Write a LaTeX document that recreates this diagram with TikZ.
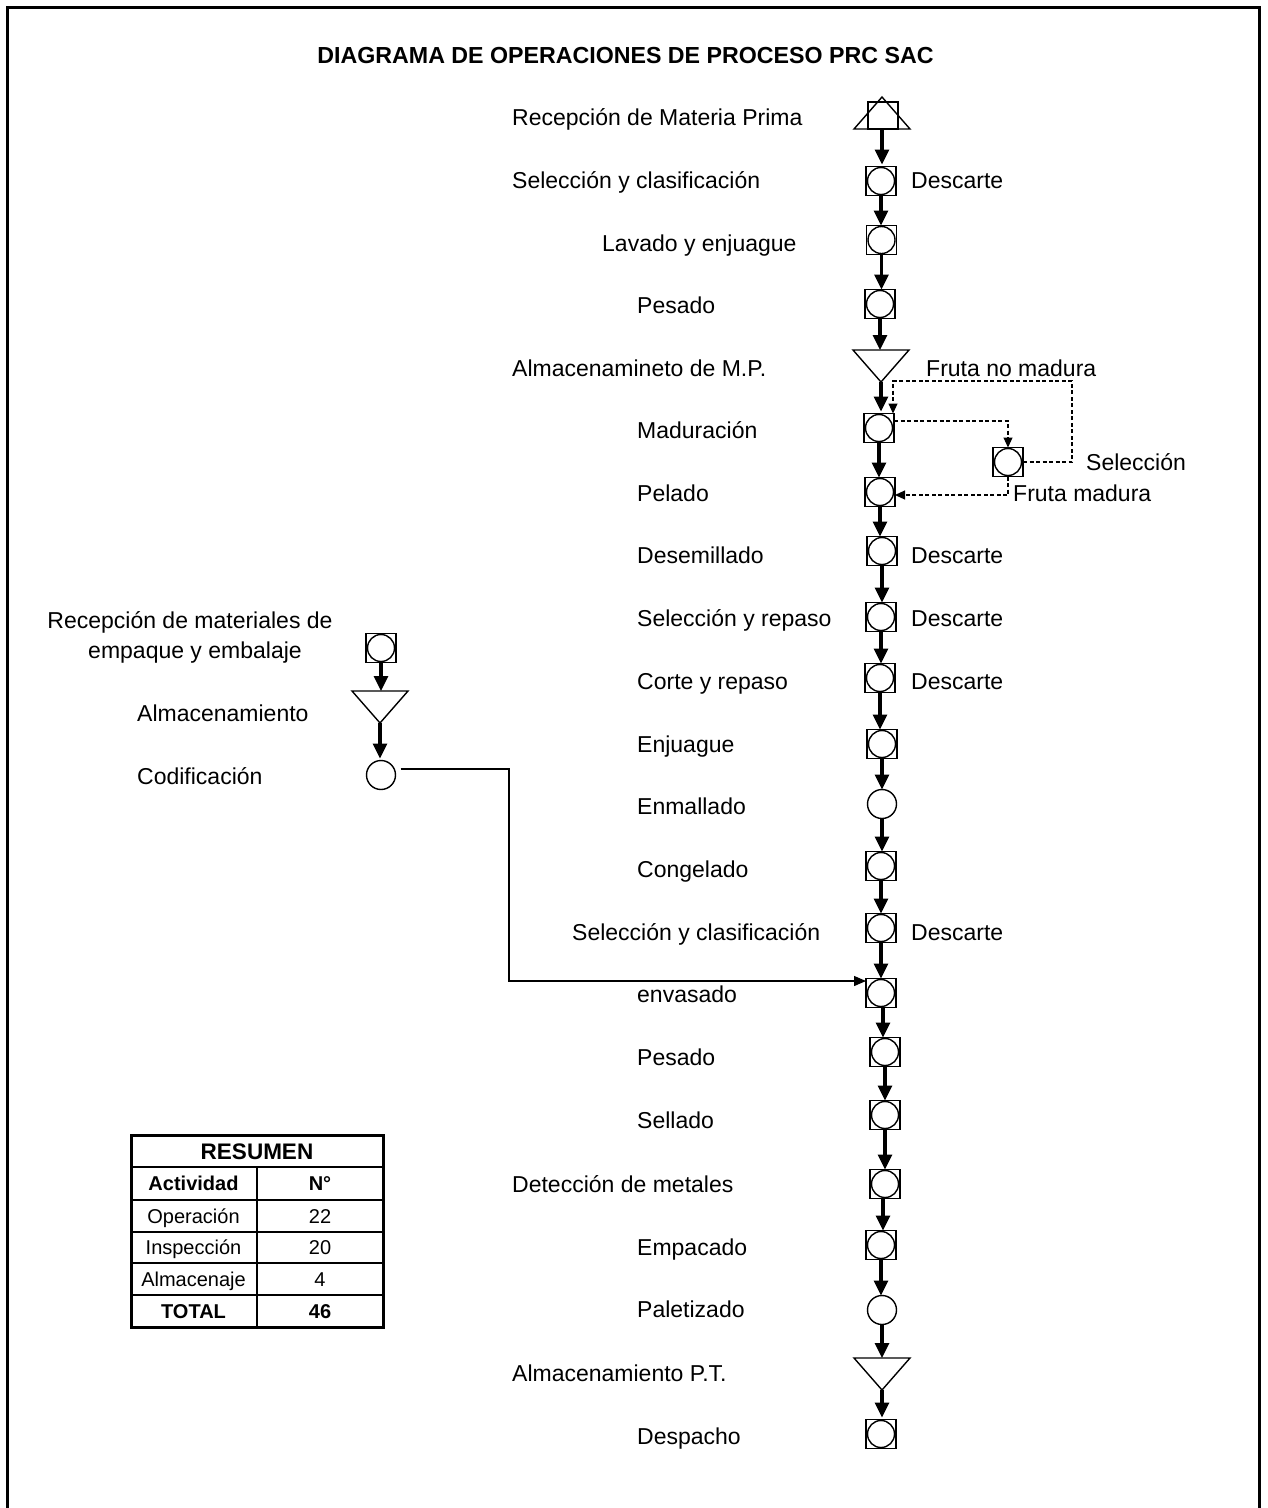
\documentclass[tikz,border=0pt]{standalone}
\usepackage{fontspec}
\setmainfont{Liberation Sans}
\usetikzlibrary{arrows.meta}
\begin{document}
\begin{tikzpicture}[x=1pt,y=-1pt,
  lbl/.style={anchor=base west, inner sep=0pt, font=\fontsize{23}{27.5}\selectfont},
  ttl/.style={anchor=base, inner sep=0pt, font=\fontsize{23.2}{27}\selectfont\bfseries},
  tb/.style={anchor=base, inner sep=0pt, font=\fontsize{20}{24}\selectfont},
  tbb/.style={anchor=base, inner sep=0pt, font=\fontsize{20}{24}\selectfont\bfseries},
  oi/.style={draw, line width=1.4pt, minimum width=30pt, minimum height=29pt, inner sep=0pt, outer sep=0pt,
    path picture={\draw[line width=1.4pt] (path picture bounding box.center) circle[radius=13.5pt];}},
  op/.style={circle, draw, line width=1.4pt, minimum size=29pt, inner sep=0pt, outer sep=0pt},
  store/.style={minimum width=60pt, minimum height=36pt, inner sep=0pt, outer sep=0pt,
    path picture={\draw[line width=1.4pt, line join=miter]
      ([shift={(-28pt,16pt)}]path picture bounding box.center) --
      ([shift={(28pt,16pt)}]path picture bounding box.center) --
      ([shift={(0pt,-16pt)}]path picture bounding box.center) -- cycle;}},
  recv/.style={minimum width=60pt, minimum height=36pt, inner sep=0pt, outer sep=0pt,
    path picture={\draw[line width=1.4pt]
      ([shift={(-28pt,-16pt)}]path picture bounding box.center) --
      ([shift={(28pt,-16pt)}]path picture bounding box.center) --
      ([shift={(0pt,16pt)}]path picture bounding box.center) -- cycle;
      \draw[line width=1.4pt] ([shift={(-14pt,-16pt)}]path picture bounding box.center) rectangle
      ([shift={(16pt,11pt)}]path picture bounding box.center);}},
  flow/.style={line width=3.2pt, -{Triangle[length=15pt,width=14pt]}},
  dsh/.style={line width=1.1pt, dash pattern=on 4pt off 2.5pt, -{Triangle[length=10pt,width=9pt]}},
  thinar/.style={line width=1.3pt, -{Triangle[length=12pt,width=10pt]}}
]
\useasboundingbox (0,0) rectangle (1267,1508);
% frame
\draw[line width=3pt] (7,1508) -- (7,7) -- (1259,7) -- (1259,1508);
% title
\node[ttl] (title) at (625.5,63) {DIAGRAMA DE OPERACIONES DE PROCESO PRC SAC};

% labels of the main column
\foreach \n/\x/\y/\t in {
  1/512/117/{Recepción de Materia Prima},
  2/512/180/{Selección y clasificación},
  3/602/243/{Lavado y enjuague},
  4/637/305/{Pesado},
  5/512/368/{Almacenamineto de M.P.},
  6/637/430/{Maduración},
  7/637/493/{Pelado},
  8/637/555/{Desemillado},
  9/637/618/{Selección y repaso},
  10/637/681/{Corte y repaso},
  11/637/744/{Enjuague},
  12/637/806/{Enmallado},
  13/637/869/{Congelado},
  14/572/932/{Selección y clasificación},
  15/637/994/{envasado},
  16/637/1057/{Pesado},
  17/637/1120/{Sellado},
  18/512/1184/{Detección de metales},
  19/637/1247/{Empacado},
  20/637/1309/{Paletizado},
  21/512/1373/{Almacenamiento P.T.},
  22/637/1436/{Despacho}}
  \node[lbl] (t\n) at (\x,\y+8) {\t};

% Descarte labels
\foreach \n/\y in {2/180, 8/555, 9/618, 10/681, 14/932}
  \node[lbl] (d\n) at (911,\y+8) {Descarte};

% symbols of the main column
\node[recv]  (s1)  at (882,113) {};
\node[oi]    (s2)  at (881,181) {};
\node[oi]    (s3)  at (881.5,240) {};
\node[oi]    (s4)  at (880,304) {};
\node[store] (s5)  at (881,366) {};
\node[oi]    (s6)  at (879,428) {};
\node[oi]    (s7)  at (880,492) {};
\node[oi]    (s8)  at (882,551) {};
\node[oi]    (s9)  at (881,617) {};
\node[oi]    (s10) at (880,678) {};
\node[oi]    (s11) at (882,744) {};
\node[op]    (s12) at (882,804) {};
\node[oi]    (s13) at (881,866) {};
\node[oi]    (s14) at (881,928) {};
\node[oi]    (s15) at (881,993) {};
\node[oi]    (s16) at (885,1052) {};
\node[oi]    (s17) at (885,1115) {};
\node[oi]    (s18) at (885,1184) {};
\node[oi]    (s19) at (881,1245) {};
\node[op]    (s20) at (882,1310) {};
\node[store] (s21) at (882,1374) {};
\node[oi]    (s22) at (881,1434) {};

% main flow arrows (vertical)
\draw[flow] ([yshift=2pt]s1.south) -- ([yshift=2pt]s1.south |- s2.north);
\draw[flow] (s2.south) -- (s2.south |- s3.north);
\draw[flow] (s3.south) -- (s3.south |- s4.north);
\draw[flow] (s4.south) -- ([yshift=-2pt]s4.south |- s5.north);
\draw[flow] ([yshift=2pt]s5.south) -- ([yshift=2pt]s5.south |- s6.north);
\draw[flow] (s6.south) -- (s6.south |- s7.north);
\draw[flow] (s7.south) -- (s7.south |- s8.north);
\draw[flow] (s8.south) -- (s8.south |- s9.north);
\draw[flow] (s9.south) -- (s9.south |- s10.north);
\draw[flow] (s10.south) -- (s10.south |- s11.north);
\draw[flow] (s11.south) -- (s11.south |- s12.north);
\draw[flow] (s12.south) -- (s12.south |- s13.north);
\draw[flow] (s13.south) -- (s13.south |- s14.north);
\draw[flow] (s14.south) -- (s14.south |- s15.north);
\draw[flow] ([xshift=2pt]s15.south) -- ([xshift=2pt]s15.south |- s16.north);
\draw[flow] (s16.south) -- (s16.south |- s17.north);
\draw[flow] (s17.south) -- (s17.south |- s18.north);
\draw[flow] ([xshift=-2pt]s18.south) -- ([xshift=-2pt]s18.south |- s19.north);
\draw[flow] (s19.south) -- (s19.south |- s20.north);
\draw[flow] (s20.south) -- ([yshift=-2pt]s20.south |- s21.north);
\draw[flow] ([yshift=2pt]s21.south) -- ([yshift=2pt]s21.south |- s22.north);

% ripening loop
\node[oi] (sel) at (1008,462) {};
\node[lbl] (selt) at (1086,462+8) {Selección};
\node[lbl] (fnm) at (926,368+8) {Fruta no madura};
\node[lbl] (fm) at (1013,493+8) {Fruta madura};
\coordinate (loopTR) at (1072,381);
\draw[dsh] ([yshift=7pt]s6.east) -| (sel.north);
\draw[dsh] (sel.east) -| (loopTR) -| ([xshift=14pt]s6.north);
\draw[dsh] (sel.south) |- ([yshift=-3pt]s7.east);

% packaging branch
\node[lbl, anchor=base, align=center] (p1) at (190,620+8) {Recepción de materiales de};
\node[lbl, anchor=base] (p2) at (195,650+8) {empaque y embalaje};
\node[lbl] (p3) at (137,713+8) {Almacenamiento};
\node[lbl] (p4) at (137,776+8) {Codificación};
\node[oi]    (L1) at (381,648) {};
\node[store] (L2) at (380,707) {};
\node[op]    (L3) at (381,775) {};
\draw[flow] (L1.south) -- ([yshift=-2pt]L1.south |- L2.north);
\draw[flow] ([yshift=2pt]L2.south) -- ([yshift=2pt]L2.south |- L3.north);
\coordinate (jn) at (509,981);
\draw[thinar] ([shift={(5pt,6pt)}]L3.east) -| (jn) -- ([yshift=12pt]s15.west);

% summary table
\draw[line width=3pt] (131,1135) rectangle (383,1327);
\draw[line width=2.5pt] (131,1167) -- (383,1167);
\draw[line width=2.5pt] (131,1200) -- (383,1200);
\draw[line width=1.5pt] (131,1232) -- (383,1232);
\draw[line width=1.5pt] (131,1263) -- (383,1263);
\draw[line width=2.5pt] (131,1295) -- (383,1295);
\draw[line width=2pt] (257,1167) -- (257,1327);
\node[tbb, font=\fontsize{22.5}{26}\selectfont\bfseries] (th) at (257,1151+8) {RESUMEN};
\node[tbb] (ta0) at (193.5,1183.5+7) {Actividad};
\node[tbb] (tb0) at (320,1183.5+7) {N°};
\node[tb]  (ta1) at (193.5,1216+7) {Operación};
\node[tb]  (tb1) at (320,1216+7) {22};
\node[tb]  (ta2) at (193.5,1247.5+7) {Inspección};
\node[tb]  (tb2) at (320,1247.5+7) {20};
\node[tb]  (ta3) at (193.5,1279+7) {Almacenaje};
\node[tb]  (tb3) at (320,1279+7) {4};
\node[tbb] (ta4) at (193.5,1311+7) {TOTAL};
\node[tbb] (tb4) at (320,1311+7) {46};
\end{tikzpicture}
\end{document}
